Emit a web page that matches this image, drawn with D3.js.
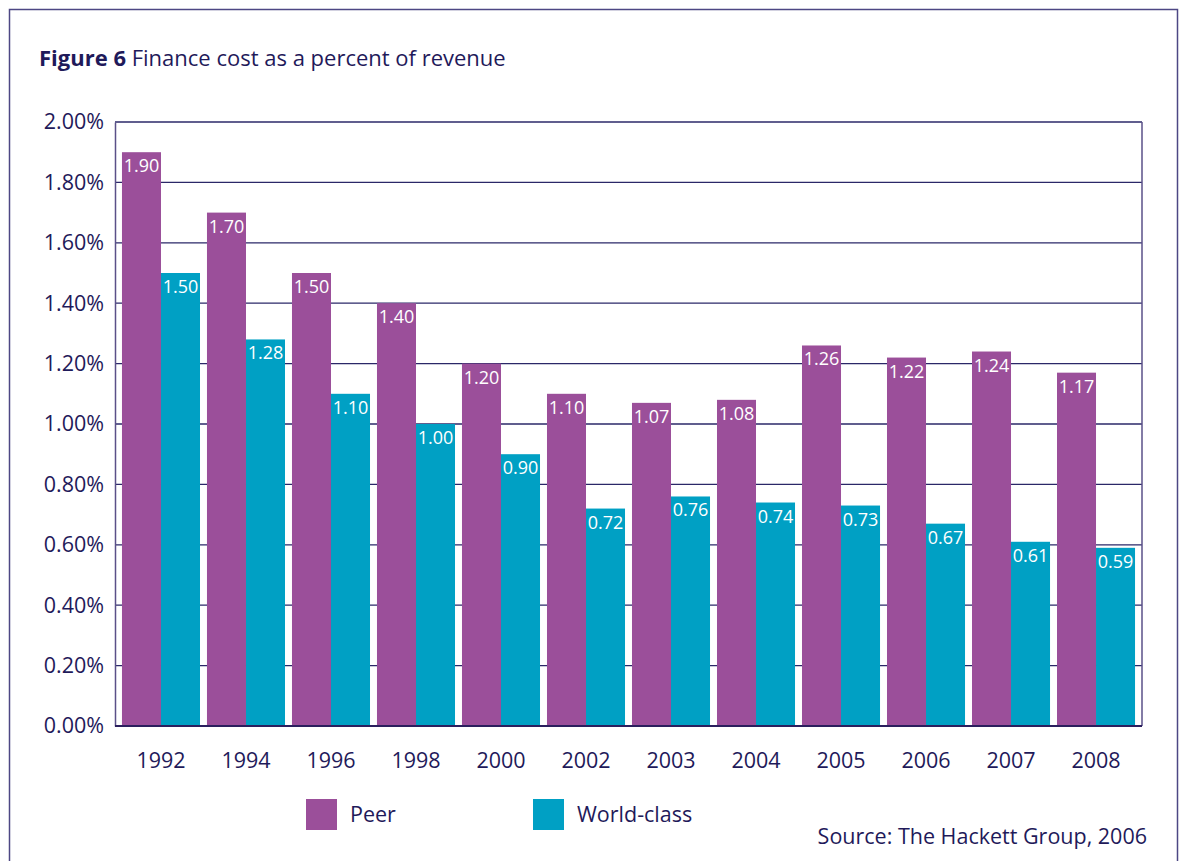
<!DOCTYPE html>
<html>
<head>
<meta charset="utf-8">
<script src="https://cdn.jsdelivr.net/npm/d3@7"></script>
<style>
  body { margin: 0; background: #fff; }
  svg { display: block; font-family: "Open Sans", "Noto Sans", sans-serif; }
</style>
</head>
<body>
<script>
// datos del gráfico
const anios = ["1992", "1994", "1996", "1998", "2000", "2002", "2003", "2004", "2005", "2006", "2007", "2008"];
const peer = [1.90, 1.70, 1.50, 1.40, 1.20, 1.10, 1.07, 1.08, 1.26, 1.22, 1.24, 1.17];
const worldClass = [1.50, 1.28, 1.10, 1.00, 0.90, 0.72, 0.76, 0.74, 0.73, 0.67, 0.61, 0.59];
const series = ["Peer", "World-class"];
const ticksY = [0, 0.2, 0.4, 0.6, 0.8, 1.0, 1.2, 1.4, 1.6, 1.8, 2.0];

const colores = { "Peer": "#9b4f9a", "World-class": "#00a0c4" };
const navy = "#1f1a5a";
const tam = "21.5px";

const svg = d3.select("body").append("svg")
  .attr("width", 1183)
  .attr("height", 861);

// marco exterior
svg.append("path")
  .attr("d", "M9.5,870 V9.5 H1177.5 V870")
  .attr("fill", "none")
  .attr("stroke", "#4d4784")
  .attr("stroke-width", 1.5);

// título
const titulo = svg.append("text")
  .attr("x", 39).attr("y", 66)
  .attr("fill", navy)
  .style("font-size", "22px");
titulo.append("tspan").attr("font-weight", "bold").text("Figure 6");
titulo.append("tspan").text(" Finance cost as a percent of revenue");

const izq = 115, der = 1142, arriba = 122, abajo = 726;

const x = d3.scaleBand().domain(anios).range([izq, der])
  .paddingInner(0.082).paddingOuter(0.082);
const xs = d3.scaleBand().domain(series).range([0, x.bandwidth()]);
const y = d3.scaleLinear().domain([0, 2]).range([abajo, arriba]);

// líneas de grilla
svg.append("g").selectAll("line")
  .data(ticksY.filter(d => d > 0))
  .join("line")
  .attr("x1", izq).attr("x2", der)
  .attr("y1", d => y(d)).attr("y2", d => y(d))
  .attr("stroke", "#2b2868").attr("stroke-width", 1.3);

// eje y
const ejeY = svg.append("g")
  .attr("transform", `translate(${izq},0)`)
  .call(d3.axisLeft(y).tickValues(ticksY).tickFormat(d => d.toFixed(2) + "%").tickSize(0).tickPadding(11));
ejeY.select(".domain").attr("stroke", "#5a5088").attr("stroke-width", 1.5);
ejeY.selectAll("text").attr("fill", navy).style("font-size", tam)
  .style("font-family", "'Open Sans', 'Noto Sans', sans-serif");

// borde derecho del área
svg.append("line")
  .attr("x1", der).attr("x2", der).attr("y1", arriba).attr("y2", abajo)
  .attr("stroke", "#5a5088").attr("stroke-width", 1.5);

const filas = anios.map((a, i) => ({ anio: a, valores: [
  { serie: "Peer", valor: peer[i] },
  { serie: "World-class", valor: worldClass[i] }
] }));

const grupos = svg.append("g").selectAll("g")
  .data(filas)
  .join("g")
  .attr("transform", d => `translate(${x(d.anio)},0)`);

const barras = grupos.selectAll("g")
  .data(d => d.valores)
  .join("g");

barras.append("rect")
  .attr("x", d => xs(d.serie))
  .attr("y", d => y(d.valor))
  .attr("width", xs.bandwidth())
  .attr("height", d => y(0) - y(d.valor))
  .attr("fill", d => colores[d.serie]);

barras.append("text")
  .attr("x", d => xs(d.serie) + xs.bandwidth() / 2)
  .attr("y", d => y(d.valor) + 20)
  .attr("text-anchor", "middle")
  .attr("fill", "#fff")
  .style("font-size", "18px")
  .text(d => d.valor.toFixed(2));

// eje x (línea base)
svg.append("line")
  .attr("x1", izq).attr("x2", der).attr("y1", abajo).attr("y2", abajo)
  .attr("stroke", "#2b1f5e").attr("stroke-width", 2);

svg.append("g").selectAll("text")
  .data(anios)
  .join("text")
  .attr("x", d => x(d) + x.bandwidth() / 2)
  .attr("y", 768)
  .attr("text-anchor", "middle")
  .attr("fill", navy)
  .style("font-size", tam)
  .text(d => d);

// leyenda
const posLeyenda = [306, 533];
const leyenda = svg.append("g").selectAll("g")
  .data(series)
  .join("g")
  .attr("transform", (d, i) => `translate(${posLeyenda[i]},799)`);
leyenda.append("rect")
  .attr("width", 31).attr("height", 31)
  .attr("fill", d => colores[d]);
leyenda.append("text")
  .attr("x", 44).attr("y", 23)
  .attr("fill", navy)
  .style("font-size", tam)
  .text(d => d);

// fuente
svg.append("text")
  .attr("x", 1147).attr("y", 844)
  .attr("text-anchor", "end")
  .attr("fill", navy)
  .style("font-size", tam)
  .text("Source: The Hackett Group, 2006");
</script>
</body>
</html>
